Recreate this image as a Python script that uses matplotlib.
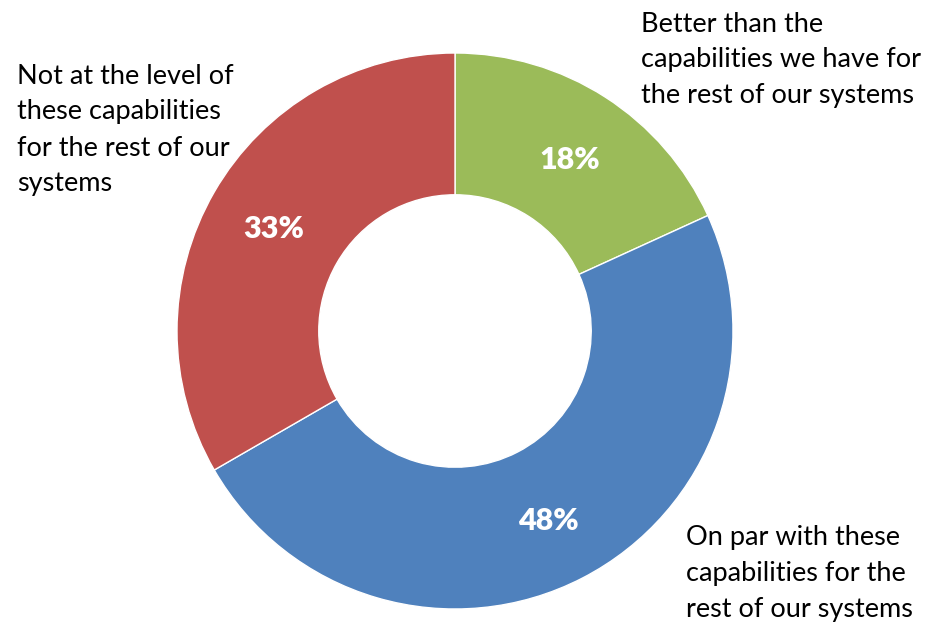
import matplotlib
matplotlib.use('Agg')
import matplotlib.pyplot as plt

labels = ['Better than the\ncapabilities we have for\nthe rest of our systems',
          'On par with these\ncapabilities for the\nrest of our systems',
          'Not at the level of\nthese capabilities\nfor the rest of our\nsystems']
values = [18, 48, 33]
pct_labels = ['18%', '48%', '33%']
colors = ['#9BBB59', '#4F81BD', '#C0504D']

W, H = 936, 622
plt.rcParams['font.family'] = ['Lato', 'DejaVu Sans']

fig = plt.figure(figsize=(W / 100, H / 100), dpi=100)
cx, cy, r = 455, 331, 278
ax = fig.add_axes([(cx - r) / W, (H - cy - r) / H, 2 * r / W, 2 * r / H])
ax.pie(values, colors=colors, startangle=90, counterclock=False,
       wedgeprops=dict(width=0.51, edgecolor='white', linewidth=1))
ax.set_xlim(-1, 1)
ax.set_ylim(-1, 1)
ax.set_aspect('equal')
ax.axis('off')

def px(x, y):
    return x / W, 1 - y / H

# percent labels inside the ring
for (x, y), t in zip([(570, 160), (548, 521), (274, 229)], pct_labels):
    fig.text(*px(x, y), t, color='white', fontsize=22, fontweight='heavy',
             ha='center', va='center')

# category labels
fig.text(*px(641, 60), labels[0], fontsize=19.5, ha='left', va='center', linespacing=1.55)
fig.text(*px(686, 573), labels[1], fontsize=19.5, ha='left', va='center', linespacing=1.55)
fig.text(*px(17, 130), labels[2], fontsize=19.5, ha='left', va='center', linespacing=1.55)

fig.savefig('out.png', dpi=100)
